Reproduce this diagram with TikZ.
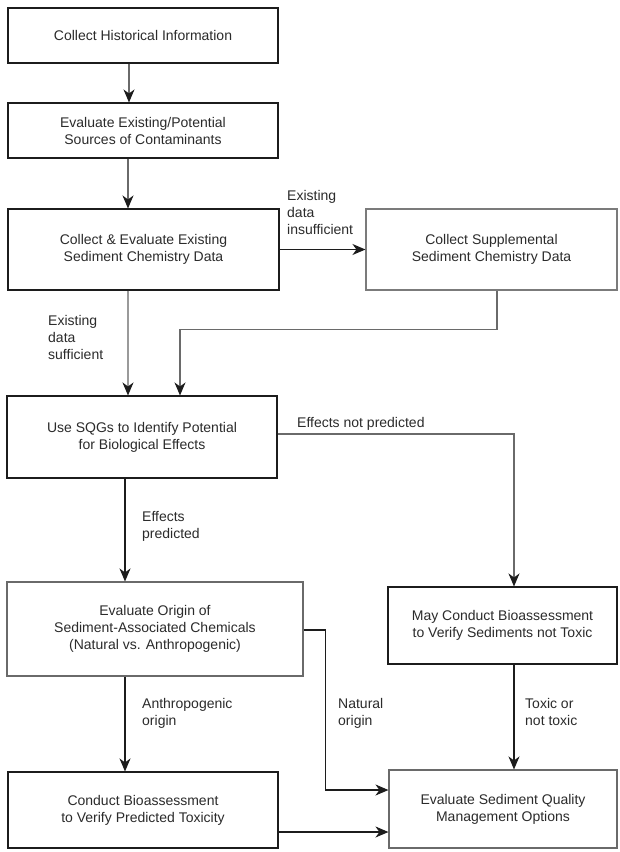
\documentclass[tikz,border=0pt]{standalone}
\usepackage{fontspec}
\setmainfont{Liberation Sans}
\usetikzlibrary{arrows.meta}
\definecolor{ink}{HTML}{1C1C1C}
\definecolor{txt}{HTML}{2B2B2B}
\definecolor{midline}{HTML}{6A6A6A}
\definecolor{paleline}{HTML}{9A9A9A}
\begin{document}
\begin{tikzpicture}[x=1pt,y=-1pt,
  box/.style={draw=ink, line width=1.1pt, fill=white, inner sep=0pt,
    align=center, text=txt, font=\fontsize{14}{17}\selectfont},
  softbox/.style={box, draw=midline},
  conn/.style={draw=ink, line width=1.1pt,
    -{Stealth[length=13pt,width=11pt,inset=4pt,color=ink]}},
  lbl/.style={anchor=north west, inner sep=0pt, align=left, text=txt,
    font=\fontsize{14}{17}\selectfont}]
\useasboundingbox (0,0) rectangle (620,852);
\fill[white] (0,0) rectangle (620,852);

% process boxes
\node[box, minimum width=270pt, minimum height=55pt] (b1) at (143,35.5)
  {Collect Historical Information};
\node[box, minimum width=270pt, minimum height=55pt] (b2) at (143,130.5)
  {Evaluate Existing/Potential\\Sources of Contaminants};
\node[box, minimum width=271pt, minimum height=81pt] (b3) at (143.5,249.5)
  {Collect \& Evaluate Existing\\Sediment Chemistry Data};
\node[softbox, draw=paleline!80!black, minimum width=251pt, minimum height=81pt] (b4) at (491.5,249.5)
  {Collect Supplemental\\Sediment Chemistry Data};
\node[box, minimum width=270pt, minimum height=82pt] (b5) at (142,437)
  {Use SQGs to Identify Potential\\for Biological Effects};
\node[softbox, minimum width=296pt, minimum height=94pt] (b6) at (155,629)
  {Evaluate Origin of\\Sediment-Associated Chemicals\\(Natural vs. Anthropogenic)};
\node[box, minimum width=229pt, minimum height=77pt] (b9) at (502.5,625.5)
  {May Conduct Bioassessment\\to Verify Sediments not Toxic};
\node[box, minimum width=270pt, minimum height=76pt] (b7) at (143,810)
  {Conduct Bioassessment\\to Verify Predicted Toxicity};
\node[softbox, minimum width=228pt, minimum height=78pt] (b8) at (503,809)
  {Evaluate Sediment Quality\\Management Options};

% connectors
\draw[conn, draw=midline] ([xshift=-14pt]b1.south) -- ([xshift=-14pt]b2.north);
\draw[conn, draw=midline] ([xshift=-15pt]b2.south) -- ([xshift=-15.5pt]b3.north);
\draw[conn] (b3.east) -- (b4.west);
\draw[conn, draw=paleline] ([xshift=-15.5pt]b3.south) -- ([xshift=-14pt]b5.north);
\draw[conn, draw=midline] ([xshift=5.5pt]b4.south) -- ++(0,39)
  -| ([xshift=38pt]b5.north);
\draw[conn] ([xshift=-17pt]b5.south) -- ([xshift=-30pt]b6.north);
\draw[conn, draw=midline] ([yshift=3pt]b5.east) -| ([xshift=11.5pt]b9.north);
\draw[conn] ([xshift=-30pt]b6.south) -- ([xshift=-18pt]b7.north);
\draw[conn] ([yshift=-1pt]b6.east) -- ++(22,0) |- ([yshift=19pt]b8.west);
\draw[conn] ([yshift=-22pt]b7.east) -- ([yshift=-23pt]b8.west);
\draw[conn] ([xshift=11.5pt]b9.south) -- ([xshift=11pt]b8.north);

% connector labels
\node[lbl] (l1) at (287,190) {Existing\\data\\insufficient};
\node[lbl] (l2) at (48,315) {Existing\\data\\sufficient};
\node[lbl] (l3) at (297,417) {Effects not predicted};
\node[lbl] (l4) at (142,511) {Effects\\predicted};
\node[lbl] (l5) at (142,698) {Anthropogenic\\origin};
\node[lbl] (l6) at (338,698) {Natural\\origin};
\node[lbl] (l7) at (525,698) {Toxic or\\not toxic};
\end{tikzpicture}
\end{document}
